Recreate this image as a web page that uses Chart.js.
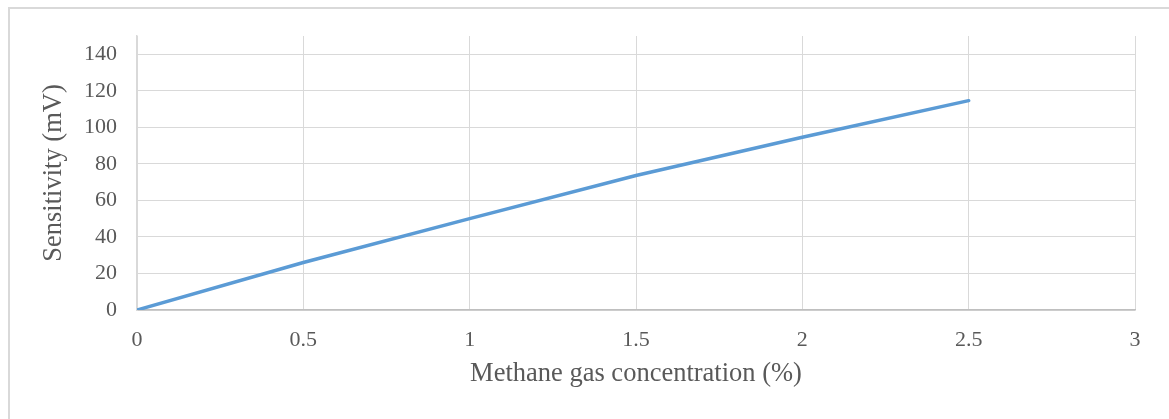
<!doctype html>
<html>
<head>
	<meta charset="UTF-8">
	<title>Sensitivity</title>
	<script src="https://cdn.jsdelivr.net/npm/chart.js@4"></script>
	<style>
		body { margin: 0; overflow: hidden; background: #fff; }
		#frame { position: absolute; left: 8px; top: 7px; width: 1200px; height: 450px;
			border-left: 2px solid #d9d9d9; border-top: 2px solid #d9d9d9; pointer-events: none; }
		canvas { position: absolute; left: 0; top: 0; }
	</style>
</head>
<body>
	<div id="frame"></div>
	<canvas id="chart" width="1169" height="419"></canvas>
	<script>
		// methane concentration (%) and measured sensitivity (mV)
		const concentration = [0, 0.5, 1, 1.5, 2, 2.5]
		const sensitivity = [0, 26, 50, 73.6, 94.6, 114.6]

		const xTicks = [0, 0.5, 1, 1.5, 2, 2.5, 3]
		const xTickLabels = ['0', '0.5', '1', '1.5', '2', '2.5', '3']
		const yTicks = [0, 20, 40, 60, 80, 100, 120, 140]
		const yTickLabels = ['0', '20', '40', '60', '80', '100', '120', '140']

		const textColor = '#595959'
		const gridColor = '#d9d9d9'
		const serif = 'Liberation Serif'

		const points = concentration.map((x, i) => ({ x: x, y: sensitivity[i] }))

		new Chart(document.getElementById('chart'), {
			type: 'line',
			data: {
				datasets: [{
					data: points,
					borderColor: '#5b9bd5',
					borderWidth: 3.5,
					borderCapStyle: 'round',
					pointRadius: 0,
					tension: 0,
					fill: false
				}]
			},
			options: {
				responsive: false,
				animation: false,
				events: [],
				layout: { padding: { top: 36, right: 34, left: 0, bottom: 0 } },
				plugins: { legend: { display: false }, tooltip: { enabled: false } },
				scales: {
					x: {
						type: 'linear',
						min: 0,
						max: 3,
						afterFit: scale => { scale.height = 109 },
						afterBuildTicks: axis => { axis.ticks = xTicks.map(v => ({ value: v })) },
						grid: { color: gridColor, lineWidth: 1, drawTicks: false },
						border: { color: '#bfbfbf', width: 1.5 },
						ticks: {
							padding: 19,
							color: textColor,
							font: { family: serif, size: 22, lineHeight: 1 },
							callback: (v, i) => xTickLabels[i]
						},
						title: {
							display: true,
							text: 'Methane gas concentration (%)',
							color: textColor,
							font: { family: serif, size: 26.5, lineHeight: 1 },
							padding: { top: 0, bottom: 32 }
						}
					},
					y: {
						min: 0,
						max: 150,
						afterFit: scale => { scale.width = 137 },
						afterBuildTicks: axis => { axis.ticks = yTicks.map(v => ({ value: v })) },
						grid: { color: gridColor, lineWidth: 1, drawTicks: false },
						border: { color: gridColor, width: 1.5 },
						ticks: {
							padding: 20,
							color: textColor,
							font: { family: serif, size: 22, lineHeight: 1 },
							callback: (v, i) => yTickLabels[i]
						},
						title: {
							display: true,
							text: 'Sensitivity (mV)',
							color: textColor,
							font: { family: serif, size: 26.5, lineHeight: 1 },
							padding: { top: 41, bottom: 0 }
						}
					}
				}
			}
		})
	</script>
</body>
</html>
